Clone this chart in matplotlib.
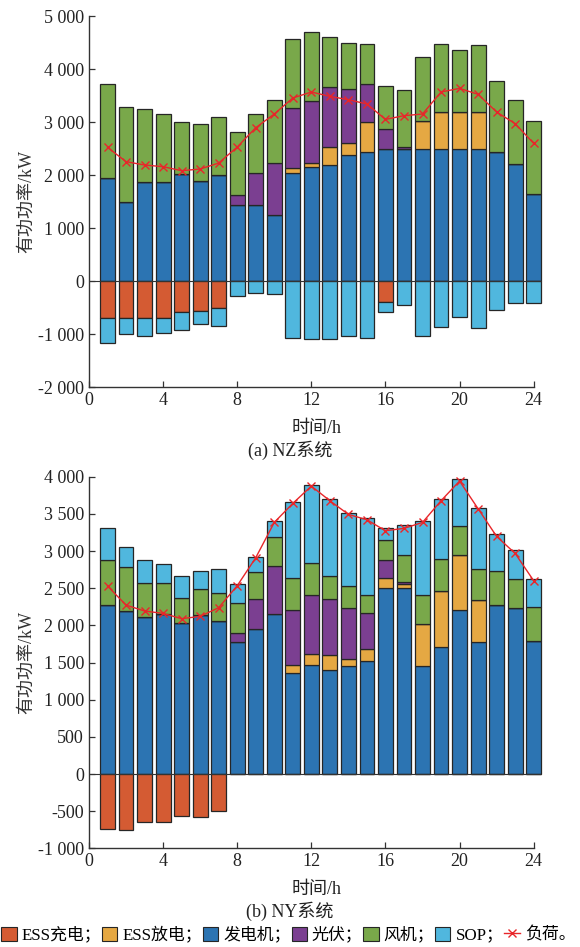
import numpy as np
import matplotlib
matplotlib.use("Agg")
import matplotlib.pyplot as plt
from matplotlib.ticker import FixedLocator, FuncFormatter
from matplotlib.lines import Line2D
from matplotlib.patches import Patch

plt.rcParams['font.family'] = ['Liberation Serif', 'Noto Sans CJK SC']
plt.rcParams['axes.unicode_minus'] = False

hours = np.arange(1, 25)

# ---- (a) NZ system, kW ----
nz_gen = [1950, 1490, 1870, 1860, 2010, 1890, 2000, 1430, 1430, 1240, 2040, 2160,
          2180, 2370, 2440, 2490, 2490, 2490, 2490, 2490, 2490, 2440, 2210, 1640]
nz_ess_dis = [0, 0, 0, 0, 0, 0, 0, 0, 0, 0, 90, 60,
              355, 225, 555, 0, 0, 520, 690, 690, 690, 0, 0, 0]
nz_pv = [0, 0, 0, 0, 0, 0, 0, 190, 600, 985, 1140, 1175,
         1130, 1025, 730, 375, 45, 0, 0, 0, 0, 0, 0, 0]
nz_wind = [1770, 1790, 1375, 1290, 995, 1065, 1095, 1185, 1115, 1185, 1290, 1295,
           945, 880, 740, 815, 1070, 1210, 1285, 1180, 1275, 1335, 1205, 1375]
nz_ess_ch = [-700, -700, -700, -700, -590, -560, -510, 0, 0, 0, 0, 0,
             0, 0, 0, -395, 0, 0, 0, 0, 0, 0, 0, 0]
nz_sop = [-470, -300, -330, -275, -330, -260, -340, -275, -235, -245, -1080, -1100,
          -1095, -1045, -1080, -190, -445, -1040, -870, -685, -895, -545, -420, -410]
nz_load = [2522, 2252, 2189, 2157, 2082, 2113, 2226, 2528, 2893, 3151, 3453, 3566,
           3484, 3421, 3340, 3050, 3119, 3151, 3566, 3635, 3522, 3189, 2969, 2597]

# ---- (b) NY system, kW ----
ny_gen = [2280, 2190, 2110, 2150, 2030, 2135, 2065, 1770, 1945, 2155, 1360, 1460,
          1395, 1450, 1515, 2500, 2500, 1450, 1715, 2200, 1770, 2280, 2230, 1785]
ny_ess_dis = [0, 0, 0, 0, 0, 0, 0, 0, 0, 0, 100, 160,
              200, 100, 170, 135, 50, 570, 750, 750, 565, 0, 0, 0]
ny_pv = [0, 0, 0, 0, 0, 0, 0, 130, 405, 650, 745, 795,
         760, 685, 480, 245, 35, 0, 0, 0, 0, 0, 0, 0]
ny_wind = [600, 595, 455, 425, 340, 360, 365, 395, 365, 390, 430, 430,
           315, 290, 245, 270, 355, 395, 425, 390, 425, 445, 400, 465]
ny_sop = [430, 270, 310, 245, 300, 240, 325, 255, 210, 215, 1025, 1045,
          1030, 985, 1030, 165, 410, 990, 810, 635, 825, 510, 380, 380]
ny_ess_ch = [-745, -755, -650, -640, -560, -585, -500, 0, 0, 0, 0, 0,
             0, 0, 0, 0, 0, 0, 0, 0, 0, 0, 0, 0]
ny_load = [2529, 2273, 2193, 2161, 2090, 2121, 2238, 2533, 2910, 3385, 3641, 3874,
           3677, 3493, 3421, 3273, 3305, 3385, 3677, 3942, 3569, 3197, 2968, 2601]

C_CH = '#D45B33'
C_DIS = '#E5A843'
C_GEN = '#2C74B2'
C_PV = '#7B3F91'
C_WIND = '#79A84A'
C_SOP = '#50B7DE'
C_LOAD = '#E8262A'
EDGE = '#262626'


def stack(ax, pos_series, neg_series, load):
    bottom = np.zeros(24)
    for vals, c in pos_series:
        v = np.array(vals, dtype=float)
        ax.bar(hours, v, 0.8, bottom=bottom, color=c, edgecolor=EDGE, linewidth=0.9)
        bottom += v
    bottom = np.zeros(24)
    for vals, c in neg_series:
        v = np.array(vals, dtype=float)
        ax.bar(hours, v, 0.8, bottom=bottom, color=c, edgecolor=EDGE, linewidth=0.9)
        bottom += v
    ax.hlines(0, 0, 24.4, color='#333333', lw=0.8, zorder=3)
    ax.plot(hours, load, color=C_LOAD, lw=1.0, marker='x', ms=6, mew=1.0, zorder=4)


def style(ax, yticks, ylim):
    ax.set_xlim(0, 24.6)
    ax.set_ylim(*ylim)
    ax.spines['top'].set_visible(False)
    ax.spines['right'].set_visible(False)
    ax.spines['bottom'].set_bounds(0, 24)
    for s in ('left', 'bottom'):
        ax.spines[s].set_color('#333333')
        ax.spines[s].set_linewidth(1.0)
    ax.xaxis.set_major_locator(FixedLocator([0, 4, 8, 12, 16, 20, 24]))
    ax.yaxis.set_major_locator(FixedLocator(yticks))
    ax.yaxis.set_major_formatter(FuncFormatter(lambda v, p: f"{int(v):,}".replace(",", " ")))
    ax.tick_params(direction='in', length=4, width=0.9, labelsize=13, colors='#333333',
                   labelcolor='#222222')
    ax.set_ylabel('有功功率/kW', fontsize=13, color='#333333', labelpad=2)
    ax.set_xlabel('时间/h', fontsize=13, color='#222222', labelpad=8)


fig = plt.figure(figsize=(5.8, 9.47), dpi=100)

ax1 = fig.add_axes([0.1534, 0.5913, 0.7859, 0.3918])
stack(ax1, [(nz_gen, C_GEN), (nz_ess_dis, C_DIS), (nz_pv, C_PV), (nz_wind, C_WIND)],
      [(nz_ess_ch, C_CH), (nz_sop, C_SOP)], nz_load)
style(ax1, np.arange(-2000, 5001, 1000), (-2000, 5000))
fig.text(0.5, 0.524, '(a) NZ系统', ha='center', va='center', fontsize=13, color='#222222')

ax2 = fig.add_axes([0.1534, 0.1042, 0.7859, 0.3924])
stack(ax2, [(ny_gen, C_GEN), (ny_ess_dis, C_DIS), (ny_pv, C_PV), (ny_wind, C_WIND), (ny_sop, C_SOP)],
      [(ny_ess_ch, C_CH)], ny_load)
style(ax2, np.arange(-1000, 4001, 500), (-1000, 4000))
fig.text(0.5, 0.038, '(b) NY系统', ha='center', va='center', fontsize=13, color='#222222')

handles = [Patch(facecolor=c, edgecolor=EDGE, linewidth=0.8) for c in (C_CH, C_DIS, C_GEN, C_PV, C_WIND, C_SOP)]
handles.append(Line2D([], [], color=C_LOAD, lw=1.0, marker='x', ms=6))
labels = ['ESS充电；', 'ESS放电；', '发电机；', '光伏；', '风机；', 'SOP；', '负荷。']
fig.legend(handles, labels, loc='center', bbox_to_anchor=(0.497, 0.0125), ncol=7, frameon=False,
           fontsize=12.2, handlelength=0.9, handleheight=0.9, handletextpad=0.3, columnspacing=0.05,
           borderaxespad=0, borderpad=0)

fig.savefig('out.png', dpi=100)
